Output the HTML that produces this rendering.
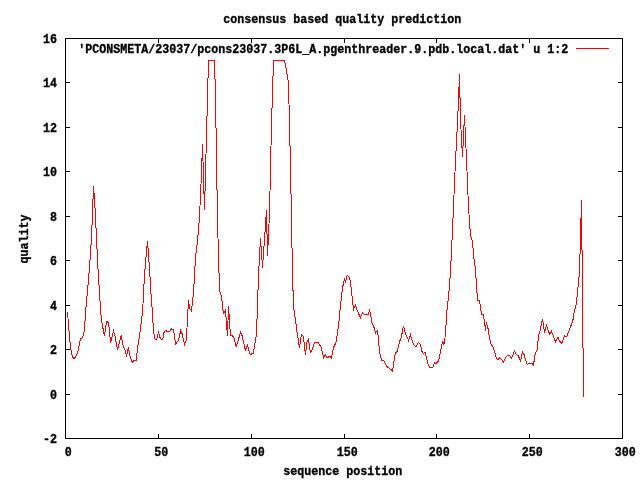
<!DOCTYPE html>
<html lang="en"><head><meta charset="utf-8"><title>consensus based quality prediction</title>
<style>html,body{margin:0;padding:0;background:#fff;overflow:hidden}svg{display:block}text{font-family:"Liberation Mono",monospace;font-weight:bold;font-size:13px;fill:#000;stroke:#000;stroke-width:0.35px}</style></head><body>
<svg width="640" height="480" viewBox="0 0 640 480">
<rect width="640" height="480" fill="#fff"/>
<path d="M65.5 38.5H622.5V438.5H65.5ZM158.5 438.5v-4.5M158.5 38.5v4.5M251.5 438.5v-4.5M251.5 38.5v4.5M344.5 438.5v-4.5M344.5 38.5v4.5M436.5 438.5v-4.5M436.5 38.5v4.5M529.5 438.5v-4.5M529.5 38.5v4.5M65.5 82.5h4.5M622.5 82.5h-4.5M65.5 127.5h4.5M622.5 127.5h-4.5M65.5 171.5h4.5M622.5 171.5h-4.5M65.5 216.5h4.5M622.5 216.5h-4.5M65.5 260.5h4.5M622.5 260.5h-4.5M65.5 305.5h4.5M622.5 305.5h-4.5M65.5 349.5h4.5M622.5 349.5h-4.5M65.5 394.5h4.5M622.5 394.5h-4.5" fill="none" stroke="#000" stroke-width="1" shape-rendering="crispEdges"/>
<text x="64.75" y="456" textLength="7" lengthAdjust="spacingAndGlyphs" text-anchor="start">0</text>
<text x="154.25" y="456" textLength="14" lengthAdjust="spacingAndGlyphs" text-anchor="start">50</text>
<text x="243.75" y="456" textLength="21" lengthAdjust="spacingAndGlyphs" text-anchor="start">100</text>
<text x="336.75" y="456" textLength="21" lengthAdjust="spacingAndGlyphs" text-anchor="start">150</text>
<text x="428.75" y="456" textLength="21" lengthAdjust="spacingAndGlyphs" text-anchor="start">200</text>
<text x="521.75" y="456" textLength="21" lengthAdjust="spacingAndGlyphs" text-anchor="start">250</text>
<text x="614.75" y="456" textLength="21" lengthAdjust="spacingAndGlyphs" text-anchor="start">300</text>
<text x="57" y="43" textLength="14" lengthAdjust="spacingAndGlyphs" text-anchor="end">16</text>
<text x="57" y="87" textLength="14" lengthAdjust="spacingAndGlyphs" text-anchor="end">14</text>
<text x="57" y="132" textLength="14" lengthAdjust="spacingAndGlyphs" text-anchor="end">12</text>
<text x="57" y="176" textLength="14" lengthAdjust="spacingAndGlyphs" text-anchor="end">10</text>
<text x="57" y="221" textLength="7" lengthAdjust="spacingAndGlyphs" text-anchor="end">8</text>
<text x="57" y="265" textLength="7" lengthAdjust="spacingAndGlyphs" text-anchor="end">6</text>
<text x="57" y="310" textLength="7" lengthAdjust="spacingAndGlyphs" text-anchor="end">4</text>
<text x="57" y="354" textLength="7" lengthAdjust="spacingAndGlyphs" text-anchor="end">2</text>
<text x="57" y="399" textLength="7" lengthAdjust="spacingAndGlyphs" text-anchor="end">0</text>
<text x="57" y="443" textLength="14" lengthAdjust="spacingAndGlyphs" text-anchor="end">-2</text>
<text x="223.25" y="23" textLength="238" lengthAdjust="spacingAndGlyphs" text-anchor="start">consensus based quality prediction</text>
<text x="283.25" y="475" textLength="119" lengthAdjust="spacingAndGlyphs" text-anchor="start">sequence position</text>
<text x="0" y="0" textLength="49" lengthAdjust="spacingAndGlyphs" text-anchor="start" transform="translate(28 263.5) rotate(-90)">quality</text>
<text x="78.25" y="53" textLength="490" lengthAdjust="spacingAndGlyphs" text-anchor="start">'PCONSMETA/23037/pcons23037.3P6L_A.pgenthreader.9.pdb.local.dat' u 1:2</text>
<path d="M576 48.5H609" stroke="#f00" stroke-width="1" fill="none" shape-rendering="crispEdges"/>
<polyline points="67.5,312 69.4,336 70.6,347.5 72.5,357 74,358.5 76.25,356 78,351 80,341 80.6,339 82.5,337.5 84,332.5 85,321 86,307.5 86.6,300 87.5,291.5 88.5,279.5 89.5,266.5 90.5,253.5 91.5,237 92.5,213.5 93.5,186 94.5,200 95.5,216.5 96.5,238 97.5,260 98.5,277.5 99.5,292.5 100.6,311 101.9,322.5 104.4,336 106.5,321.5 108.5,322.5 110.6,343 113.5,331 115,336 117.5,350 121.25,335.6 122.75,343.75 123.75,347.5 125,350 126.5,356.5 128.4,347.25 130,356.25 132.25,362.25 134,360.6 136.25,360.25 137.5,348.75 139,338.75 140.6,327.5 141.9,317.5 142.75,310 143.5,292 144.5,276.5 145.5,262.5 146.5,251 147.5,241 148.5,255 149.5,269 150.5,284 151.5,303 152.6,312 153.1,325 154.4,338 155.6,339.75 156.9,338.75 158.5,332.5 160,337.5 161.9,339.75 163.1,337.5 164,332.5 165.6,330.25 166.9,331.25 170,331.25 171.5,328.5 173.5,329.75 174.4,335 175.6,345.25 176.9,341.9 178.4,340.6 179.4,336.9 180.6,330.25 182.1,333.75 183.4,339.4 184.5,344.4 186.3,340.5 188.5,300 189.5,308 191.5,311 193.5,293 195.5,257 197.5,241 199.5,217 201.5,173 202.5,144 204.5,210 206.5,135 208.5,60 214.5,60 215.5,96 217.5,220 219.5,290 221.5,297 223.5,313.5 225.5,310 227.5,336 228.5,306 230.5,336 232.5,335.6 233.75,337.5 236.25,346.25 238.1,341 240.4,332.25 241.9,335 243.75,343 245.4,350.25 247.5,345.25 248.75,350.6 250.25,354.4 253.1,353.5 254.4,347 256.5,334 258.5,276 260.5,238 262.5,267.5 264.5,239.5 266.5,210 267.5,256 269.5,213 271.5,124 273.5,60 284.5,60 286.5,71 288.5,83 290.5,166 292.5,274 293.5,306 295.6,321.25 297.5,335 299.4,347.5 301.5,334.4 303.4,336.25 305.4,355 306.9,342.5 308.4,339.4 310.4,352.5 311.9,350 314.4,342.75 318.1,342.5 321.25,347.5 323.5,357.5 325.25,354.4 327.25,358 329.6,356.25 331.25,358 333.75,347 336,342.5 337.5,333 339,321.25 340.25,307.5 341.5,296.25 342.5,288.75 343.5,282.5 344.4,279.4 345.6,283 346.5,277.5 347.5,275.25 349.4,277.25 350.6,282.5 351.5,291.25 352.5,300 353.5,309.4 355.4,305.25 356.9,309.4 360.4,318 362.4,312.6 364.2,314.2 368.1,315 369.6,309.6 370.6,314.5 371.9,322.5 374,327.5 375.6,333 377.1,330.6 378.5,337 379,346.25 380,353.75 381.5,360 384,360.6 386.5,366.25 388.75,368 391,369.6 392.5,371.3 393.2,366.25 394.4,358 395.6,353 397.1,351.25 399.75,341.25 401.5,336.25 403.4,326.25 405.6,333.75 408.5,340.25 410.4,334.4 412.5,342 414.1,345.25 416,346.5 418.5,342.5 420.4,344.4 422.1,351.9 423.4,353.5 425,352.5 426.25,357 427.5,362.5 429.5,367.4 432.8,367.4 434.4,362.5 435.8,363.5 438.4,361 439.4,357.5 440.6,351.25 441.6,345 442.75,342 444,344.4 444.75,340 445.6,332 446.5,316.25 447.5,305 448.5,297 449.5,286 450.5,271 451.5,251 452.5,230 453.5,207 454.5,183 455.5,161 456.5,142 457.5,123 458.5,100 459.5,74 460.5,120 462.5,157 464.5,115 466.5,159 468.5,207 470.5,236 472.5,241 473.5,255 475.5,270 477.5,300.6 479.5,301 481.5,314 483.4,315 484.75,323.75 485.6,330.6 486.25,322 488.1,328.75 489.4,337 490.6,343 493.5,348 495,353 496.5,358.75 498.1,360 499.6,357.5 501.5,359.4 503.5,362.5 505.6,357.5 507.5,355.25 509.75,355.6 511.5,358.5 514.4,351.25 516.25,354.4 518.1,355.6 520.6,360.6 522.5,352.25 524,354.4 525.6,360 527.25,364.4 529,363.5 531.9,363.5 533.5,365.25 534.75,356.25 535.6,352.5 537.25,349.4 538.4,336.25 540,331.25 541.25,325 542.5,319 543.75,327.5 544.6,332.5 546.5,325.25 548.1,330.6 550,334.4 551.5,331.25 553.1,335.6 555.6,341.9 557.9,337.25 559.75,341.25 561.6,343.75 564.4,335.6 566.5,336.9 568.1,333 570,328 572.25,322.5 573.5,317.5 574.4,310 575.5,308 576.5,302 577.5,292.75 578.5,282 579.5,272 581.5,200 583.5,397" fill="none" stroke="#f00" stroke-width="1" stroke-linejoin="miter" shape-rendering="crispEdges"/>
</svg></body></html>
